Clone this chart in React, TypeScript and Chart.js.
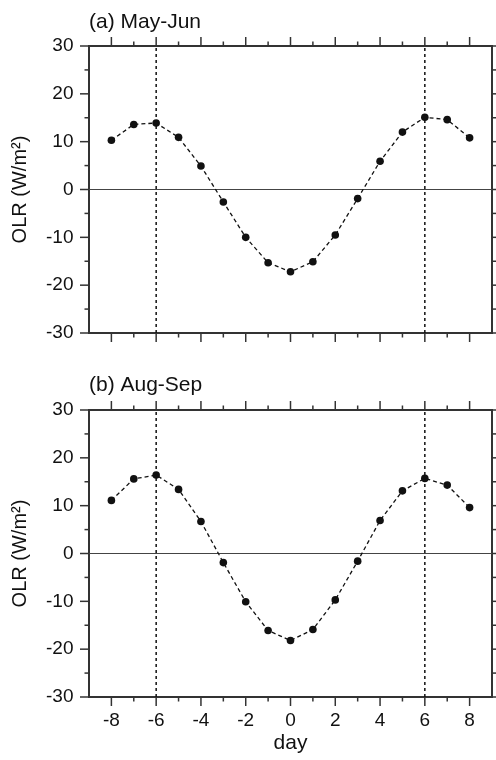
import React, { useEffect, useRef } from "react";
import { Chart, registerables } from "chart.js";

Chart.register(...registerables);

// ---- data ----
const days = [-8, -7, -6, -5, -4, -3, -2, -1, 0, 1, 2, 3, 4, 5, 6, 7, 8];
const olrMayJun = [10.3, 13.6, 13.9, 10.9, 4.9, -2.6, -10.0, -15.3, -17.2, -15.1, -9.5, -1.9, 5.9, 12.0, 15.1, 14.6, 10.8];
const olrAugSep = [11.1, 15.6, 16.4, 13.4, 6.7, -1.9, -10.1, -16.1, -18.2, -15.9, -9.7, -1.6, 6.9, 13.1, 15.7, 14.3, 9.6];
const xTickLabels = [-8, -6, -4, -2, 0, 2, 4, 6, 8];
const xMinorTicks = [-7, -5, -3, -1, 1, 3, 5, 7];
const yTickLabels = [-30, -20, -10, 0, 10, 20, 30];
const yMinorTicks = [-25, -15, -5, 5, 15, 25];
const markedDays = [-6, 6];
const xRange = [-9, 9];
const yRange = [-30, 30];
const panelTitles = ["(a) May-Jun", "(b) Aug-Sep"];
const yAxisTitle = "OLR (W/m\u00B2)";
const xAxisTitle = "day";

const FONT = "'Liberation Sans', Arial, Helvetica, sans-serif";
const INK = "#111";
const FRAME = "#333";

const tickMarks = {
  id: "tickMarks",
  afterDraw(chart: any) {
    const { ctx, chartArea: a, scales } = chart;
    const x = scales.x;
    const y = scales.y;
    ctx.save();
    ctx.strokeStyle = FRAME;
    ctx.lineWidth = 1.5;
    const seg = (x1: number, y1: number, x2: number, y2: number) => {
      ctx.beginPath();
      ctx.moveTo(x1, y1);
      ctx.lineTo(x2, y2);
      ctx.stroke();
    };
    const xs: [number[], number][] = [
      [xTickLabels, 9],
      [xMinorTicks, 4.5],
    ];
    xs.forEach(([vals, len]) =>
      vals.forEach((v) => {
        const px = x.getPixelForValue(v);
        seg(px, a.top, px, a.top - len);
        seg(px, a.bottom, px, a.bottom + len);
      })
    );
    const ys: [number[], number][] = [
      [yTickLabels, 9],
      [yMinorTicks, 4.5],
    ];
    ys.forEach(([vals, len]) =>
      vals.forEach((v) => {
        const py = y.getPixelForValue(v);
        seg(a.left, py, a.left - len, py);
        seg(a.right, py, a.right + len, py);
      })
    );
    ctx.restore();
  },
};

type PanelProps = {
  title: string;
  values: number[];
  height: number;
  topH: number;
  bottomH: number;
  titlePad: number;
  showX: boolean;
};

function Panel({ title, values, height, topH, bottomH, titlePad, showX }: PanelProps) {
  const ref = useRef<HTMLCanvasElement | null>(null);
  useEffect(() => {
    if (!ref.current) return;
    const border = { display: true, color: FRAME, width: 2 };
    const grid = { display: true, drawOnChartArea: false, drawTicks: false };
    const chart = new Chart(ref.current, {
      type: "line",
      data: {
        datasets: [
          {
            data: days.map((d, i) => ({ x: d, y: values[i] })),
            borderColor: INK,
            backgroundColor: INK,
            borderWidth: 1.3,
            borderDash: [4, 3],
            pointRadius: 3.8,
            pointBorderWidth: 0,
            pointBackgroundColor: INK,
            tension: 0,
            order: 0,
          },
          {
            data: [
              { x: xRange[0], y: 0 },
              { x: xRange[1], y: 0 },
            ],
            borderColor: "#444",
            borderWidth: 1,
            pointRadius: 0,
            order: 1,
          },
          ...markedDays.map((d) => ({
            data: [
              { x: d, y: yRange[0] },
              { x: d, y: yRange[1] },
            ],
            borderColor: INK,
            borderWidth: 1.5,
            borderDash: [3, 3],
            pointRadius: 0,
            order: 2,
          })),
        ],
      },
      options: {
        responsive: false,
        animation: false,
        events: [],
        layout: { padding: 0 },
        plugins: { legend: { display: false }, tooltip: { enabled: false }, title: { display: false } },
        scales: {
          x: {
            type: "linear",
            position: "bottom",
            min: xRange[0],
            max: xRange[1],
            border,
            grid,
            afterBuildTicks: (s: any) => {
              s.ticks = xTickLabels.map((v) => ({ value: v }));
            },
            afterFit: (s: any) => {
              s.height = bottomH;
            },
            ticks: {
              display: showX,
              padding: 12.5,
              color: INK,
              font: { family: FONT, size: 19 },
              maxRotation: 0,
              autoSkip: false,
            },
            title: {
              display: showX,
              text: xAxisTitle,
              color: INK,
              font: { family: FONT, size: 21 },
              padding: { top: 0, bottom: 4.5 },
            },
          },
          x2: {
            type: "linear",
            position: "top",
            min: xRange[0],
            max: xRange[1],
            border,
            grid,
            ticks: { display: false },
            afterFit: (s: any) => {
              s.height = topH;
            },
            title: {
              display: true,
              text: title,
              align: "start",
              color: INK,
              font: { family: FONT, size: 21 },
              padding: { top: titlePad, bottom: 0 },
            },
          },
          y: {
            type: "linear",
            position: "left",
            min: yRange[0],
            max: yRange[1],
            border,
            grid,
            afterBuildTicks: (s: any) => {
              s.ticks = yTickLabels.map((v) => ({ value: v }));
            },
            afterFit: (s: any) => {
              s.width = 89;
            },
            ticks: {
              padding: 15.5,
              color: INK,
              font: { family: FONT, size: 19 },
              autoSkip: false,
            },
            title: {
              display: true,
              text: yAxisTitle,
              color: INK,
              font: { family: FONT, size: 20 },
              padding: { top: 8, bottom: 0 },
            },
          },
          y2: {
            type: "linear",
            position: "right",
            min: yRange[0],
            max: yRange[1],
            border,
            grid,
            ticks: { display: false },
            afterFit: (s: any) => {
              s.width = 4;
            },
          },
        },
      } as any,
      plugins: [tickMarks],
    });
    return () => chart.destroy();
  }, [title, values, height, topH, bottomH, titlePad, showX]);
  return <canvas ref={ref} width={496} height={height} style={{ display: "block" }} />;
}

export default function App() {
  return (
    <div style={{ position: "absolute", left: 0, top: 0, width: 496, height: 760, background: "#fff" }}>
      <Panel title={panelTitles[0]} values={olrMayJun} height={370} topH={46} bottomH={37} titlePad={10} showX={false} />
      <Panel title={panelTitles[1]} values={olrAugSep} height={390} topH={40} bottomH={63} titlePad={2.5} showX={true} />
    </div>
  );
}
